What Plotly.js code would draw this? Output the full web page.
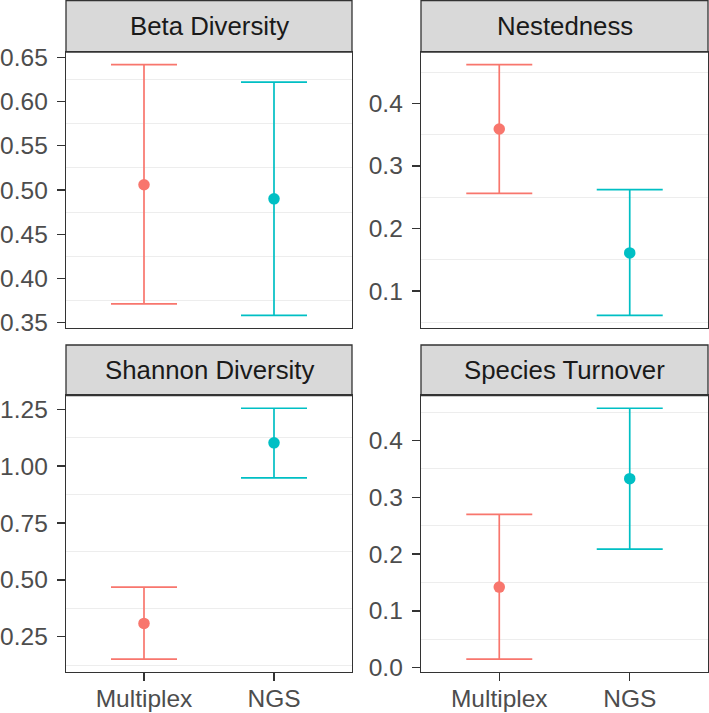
<!DOCTYPE html>
<html>
<head>
<meta charset="utf-8">
<script src="https://cdn.plot.ly/plotly-3.0.1.min.js"></script>
<style>html,body{margin:0;padding:0;background:#fff;}#chart{width:709px;height:713px;}</style>
</head>
<body>
<div id="chart"></div>
<script>
// ---- data ----
const metrics = ['Beta Diversity', 'Nestedness', 'Shannon Diversity', 'Species Turnover'];
const methods = ['Multiplex', 'NGS'];
const meanBeta = [0.506, 0.490];
const lowBeta  = [0.371, 0.358];
const highBeta = [0.642, 0.622];
const meanNest = [0.359, 0.161];
const lowNest  = [0.256, 0.061];
const highNest = [0.462, 0.262];
const meanShan = [0.309, 1.102];
const lowShan  = [0.152, 0.948];
const highShan = [0.468, 1.254];
const meanTurn = [0.142, 0.333];
const lowTurn  = [0.015, 0.209];
const highTurn = [0.270, 0.457];
const tickValsBeta = [0.35, 0.40, 0.45, 0.50, 0.55, 0.60, 0.65];
const tickValsNest = [0.1, 0.2, 0.3, 0.4];
const tickValsShan = [0.25, 0.50, 0.75, 1.00, 1.25];
const tickValsTurn = [0.0, 0.1, 0.2, 0.3, 0.4];

// ---- styling ----
const colors = ['#F8766D', '#00BFC4'];
const W = 709, H = 713;
const FONT = 'Liberation Sans, Arial, Helvetica, sans-serif';
const FS = 24.5;
const FS_STRIP = 25.8;

const panels = [
  {mean: meanBeta, low: lowBeta, high: highBeta, tv: tickValsBeta, fmt: '.2f', minor0: 0.025, minorD: 0.05, x: [66, 352], y: [52, 328], bottom: false},
  {mean: meanNest, low: lowNest, high: highNest, tv: tickValsNest, fmt: '.1f', minor0: 0.05, minorD: 0.1, x: [421, 708], y: [52, 328], bottom: false},
  {mean: meanShan, low: lowShan, high: highShan, tv: tickValsShan, fmt: '.2f', minor0: 0.125, minorD: 0.25, x: [66, 352], y: [395.7, 671.7], bottom: true},
  {mean: meanTurn, low: lowTurn, high: highTurn, tv: tickValsTurn, fmt: '.1f', minor0: 0.05, minorD: 0.1, x: [421, 708], y: [395.7, 671.7], bottom: true}
];
const stripTop = [0.5, 0.5, 345, 345];

const traces = [];
const layout = {
  width: W, height: H,
  margin: {l: 0, r: 0, t: 0, b: 0},
  paper_bgcolor: '#ffffff', plot_bgcolor: '#ffffff',
  showlegend: false,
  font: {family: FONT, size: FS, color: '#4d4d4d'},
  shapes: [], annotations: []
};

panels.forEach((p, i) => {
  const n = i + 1;
  const xa = n === 1 ? 'x' : 'x' + n;
  const ya = n === 1 ? 'y' : 'y' + n;
  methods.forEach((m, j) => {
    traces.push({
      type: 'scatter', mode: 'markers',
      x: [m], y: [p.mean[j]],
      xaxis: xa, yaxis: ya,
      marker: {color: colors[j], size: 11.5},
      error_y: {
        type: 'data', symmetric: false,
        array: [p.high[j] - p.mean[j]],
        arrayminus: [p.mean[j] - p.low[j]],
        color: colors[j], thickness: 1.7, width: 33
      },
      hoverinfo: 'skip'
    });
  });
  const lo = Math.min(...p.low), hi = Math.max(...p.high);
  const pad = (hi - lo) * 0.05;
  layout['xaxis' + (n === 1 ? '' : n)] = {
    domain: [p.x[0] / W, p.x[1] / W],
    anchor: ya,
    type: 'category', categoryorder: 'array', categoryarray: methods,
    range: [-0.6, 1.6],
    showgrid: false, zeroline: false,
    showline: true, mirror: true, linecolor: '#333333', linewidth: 1.3,
    ticks: p.bottom ? 'outside' : '', ticklen: 8, tickwidth: 1.3, tickcolor: '#333333',
    showticklabels: p.bottom,
    tickfont: {family: FONT, size: FS, color: '#4d4d4d'},
    ticklabelstandoff: -3,
    fixedrange: true
  };
  layout['yaxis' + (n === 1 ? '' : n)] = {
    domain: [1 - p.y[1] / H, 1 - p.y[0] / H],
    anchor: xa,
    range: [lo - pad, hi + pad],
    tickmode: 'array', tickvals: p.tv, tickformat: p.fmt,
    showgrid: false, zeroline: false,
    showline: true, mirror: true, linecolor: '#333333', linewidth: 1.3,
    ticks: 'outside', ticklen: 8, tickwidth: 1.3, tickcolor: '#333333',
    tickfont: {family: FONT, size: FS, color: '#4d4d4d'},
    ticklabelstandoff: 4,
    minor: {showgrid: true, gridcolor: '#ededed', gridwidth: 1, tick0: p.minor0, dtick: p.minorD, ticks: ''},
    fixedrange: true
  };
  // strip
  layout.shapes.push({
    type: 'rect', xref: 'paper', yref: 'paper',
    x0: p.x[0] / W, x1: p.x[1] / W,
    y0: 1 - p.y[0] / H, y1: 1 - stripTop[i] / H,
    fillcolor: '#d9d9d9', line: {color: '#333333', width: 1.3}, layer: 'below'
  });
  layout.annotations.push({
    xref: 'paper', yref: 'paper',
    x: (p.x[0] + p.x[1]) / 2 / W,
    y: 1 - ((p.y[0] + stripTop[i]) / 2) / H,
    xanchor: 'center', yanchor: 'middle', showarrow: false,
    text: metrics[i],
    font: {family: FONT, size: FS_STRIP, color: '#1a1a1a'}
  });
});

Plotly.newPlot('chart', traces, layout, {staticPlot: true, displayModeBar: false});
</script>
</body>
</html>
